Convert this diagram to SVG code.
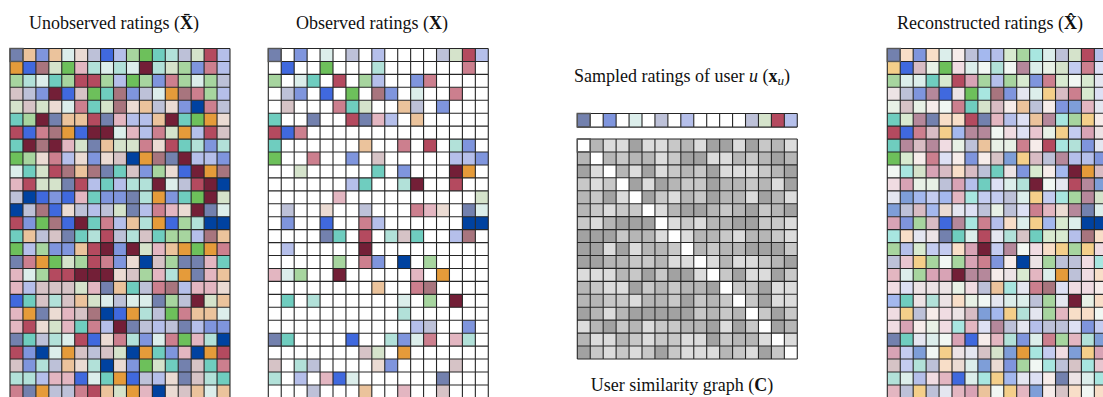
<svg xmlns="http://www.w3.org/2000/svg" xmlns:xlink="http://www.w3.org/1999/xlink" width="1103" height="397" viewBox="0 0 1103 397">
<style>
text{font-family:"Liberation Serif","Times New Roman",serif;font-size:18px;fill:#111}
.cells rect{width:1px;height:1px}
.grid{fill:none;stroke:#262626;stroke-width:0.085}
.frame{fill:none;stroke:#555;stroke-width:0.11}
.w{fill:#fff}
.a{fill:#7381AE}.b{fill:#EBC39C}.c{fill:#7F95DD}.d{fill:#B5BFEA}.e{fill:#DCEEEB}.f{fill:#EBDBD3}
.g{fill:#BDC1D8}.h{fill:#4069DE}.i{fill:#A7D59F}.j{fill:#6DC05B}.k{fill:#6FCDBF}.l{fill:#B2E1D9}
.m{fill:#D5E3CB}.n{fill:#B44A5F}.o{fill:#CC7F8E}.p{fill:#E59B3A}.q{fill:#731F37}.r{fill:#A8757E}
.s{fill:#0042A0}.t{fill:#E3B6C1}.u{fill:#D6C3C6}
.A{fill:#F8DEC8}.B{fill:#F6ECEA}.C{fill:#A4B8EE}.D{fill:#A8E6E0}.E{fill:#F4CF8A}.F{fill:#D8A3B5}
.G{fill:#B5889B}.H{fill:#D8BCC4}.I{fill:#DDE0F4}.J{fill:#E4E6F0}.K{fill:#C4CCF0}.L{fill:#F1F7F3}
.M{fill:#E8F1E6}.N{fill:#F0DCE2}.O{fill:#ECE3E5}.P{fill:#7E9ED8}.Q{fill:#D8EAD0}.R{fill:#E8C6D0}
.z1{fill:#DCDCDC}.z2{fill:#C8C8C8}.z3{fill:#B6B6B6}.z4{fill:#A2A2A2}
</style>
<defs>
<!-- 17 x 27 cell lattice in cell units -->
<path id="lattice27" class="grid" d="M0 0V27M1 0V27M2 0V27M3 0V27M4 0V27M5 0V27M6 0V27M7 0V27M8 0V27M9 0V27M10 0V27M11 0V27M12 0V27M13 0V27M14 0V27M15 0V27M16 0V27M17 0V27M0 0H17M0 1H17M0 2H17M0 3H17M0 4H17M0 5H17M0 6H17M0 7H17M0 8H17M0 9H17M0 10H17M0 11H17M0 12H17M0 13H17M0 14H17M0 15H17M0 16H17M0 17H17M0 18H17M0 19H17M0 20H17M0 21H17M0 22H17M0 23H17M0 24H17M0 25H17M0 26H17M0 27H17"/>
<!-- 17 x 17 cell lattice -->
<path id="lattice17" class="grid" d="M0 0V17M1 0V17M2 0V17M3 0V17M4 0V17M5 0V17M6 0V17M7 0V17M8 0V17M9 0V17M10 0V17M11 0V17M12 0V17M13 0V17M14 0V17M15 0V17M16 0V17M17 0V17M0 0H17M0 1H17M0 2H17M0 3H17M0 4H17M0 5H17M0 6H17M0 7H17M0 8H17M0 9H17M0 10H17M0 11H17M0 12H17M0 13H17M0 14H17M0 15H17M0 16H17M0 17H17"/>
<!-- single row of 17 cells -->
<path id="lattice1" class="grid" d="M0 0V1M1 0V1M2 0V1M3 0V1M4 0V1M5 0V1M6 0V1M7 0V1M8 0V1M9 0V1M10 0V1M11 0V1M12 0V1M13 0V1M14 0V1M15 0V1M16 0V1M17 0V1M0 0H17M0 1H17"/>
</defs>

<!-- Titles -->
<text x="114" y="29" text-anchor="middle">Unobserved ratings (<tspan font-weight="bold">X̄</tspan>)</text>
<text x="372" y="29" text-anchor="middle">Observed ratings (<tspan font-weight="bold">X</tspan>)</text>
<text x="682" y="82" text-anchor="middle">Sampled ratings of user <tspan font-style="italic">u</tspan> (<tspan font-weight="bold">x</tspan><tspan font-style="italic" font-size="13" dy="3">u</tspan><tspan dy="-3">)</tspan></text>
<text x="682" y="391" text-anchor="middle">User similarity graph (<tspan font-weight="bold">C</tspan>)</text>
<text x="990" y="29" text-anchor="middle">Reconstructed ratings (<tspan font-weight="bold">X̂</tspan>)</text>

<!-- Full rating matrix -->
<g id="unobserved-ratings" class="cells" transform="translate(10,48.5) scale(12.94)">
<g><rect class="a"/><rect class="b" x="1"/><rect class="c" x="2"/><rect class="b" x="3"/><rect class="e" x="4"/><rect class="f" x="5"/><rect class="g" x="6"/><rect class="h" x="7"/><rect class="d" x="8"/><rect class="i" x="9"/><rect class="j" x="10"/><rect class="k" x="11"/><rect class="l" x="12"/><rect class="g" x="13"/><rect class="m" x="14"/><rect class="n" x="15"/><rect class="d" x="16"/></g>
<g transform="translate(0,1)"><rect class="p"/><rect class="h" x="1"/><rect class="r" x="2"/><rect class="m" x="3"/><rect class="j" x="4"/><rect class="t" x="5"/><rect class="l" x="6"/><rect class="e" x="7"/><rect class="l" x="8"/><rect class="e" x="9"/><rect class="q" x="10"/><rect class="l" x="11"/><rect class="m" x="12"/><rect class="i" x="13"/><rect class="c" x="14"/><rect class="o" x="15"/><rect class="d" x="16"/></g>
<g transform="translate(0,2)"><rect class="i"/><rect class="l" x="1"/><rect class="e" x="2"/><rect class="k" x="3"/><rect class="i" x="4"/><rect class="n" x="5"/><rect class="n" x="6"/><rect class="i" x="7"/><rect class="d" x="8"/><rect class="j" x="9"/><rect class="i" x="10"/><rect class="c" x="11"/><rect class="o" x="12"/><rect class="i" x="13"/><rect class="e" x="14"/><rect class="i" x="15"/><rect class="g" x="16"/></g>
<g transform="translate(0,3)"><rect class="u"/><rect class="g" x="1"/><rect class="c" x="2"/><rect class="q" x="3"/><rect class="h" x="4"/><rect class="u" x="5"/><rect class="j" x="6"/><rect class="k" x="7"/><rect class="r" x="8"/><rect class="c" x="9"/><rect class="g" x="10"/><rect class="e" x="11"/><rect class="p" x="12"/><rect class="r" x="13"/><rect class="o" x="14"/><rect class="i" x="15"/><rect class="d" x="16"/></g>
<g transform="translate(0,4)"><rect class="m"/><rect class="u" x="1"/><rect class="m" x="2"/><rect class="f" x="3"/><rect class="e" x="4"/><rect class="o" x="5"/><rect class="k" x="6"/><rect class="m" x="7"/><rect class="r" x="8"/><rect class="f" x="9"/><rect class="b" x="10"/><rect class="g" x="11"/><rect class="f" x="12"/><rect class="c" x="13"/><rect class="s" x="14"/><rect class="o" x="15"/><rect class="g" x="16"/></g>
<g transform="translate(0,5)"><rect class="k"/><rect class="i" x="1"/><rect class="q" x="2"/><rect class="a" x="3"/><rect class="b" x="4"/><rect class="b" x="5"/><rect class="n" x="6"/><rect class="a" x="7"/><rect class="t" x="8"/><rect class="d" x="9"/><rect class="d" x="10"/><rect class="b" x="11"/><rect class="q" x="12"/><rect class="k" x="13"/><rect class="j" x="14"/><rect class="p" x="15"/><rect class="f" x="16"/></g>
<g transform="translate(0,6)"><rect class="n"/><rect class="h" x="1"/><rect class="o" x="2"/><rect class="r" x="3"/><rect class="p" x="4"/><rect class="h" x="5"/><rect class="q" x="6"/><rect class="q" x="7"/><rect class="e" x="8"/><rect class="t" x="9"/><rect class="d" x="10"/><rect class="o" x="11"/><rect class="m" x="12"/><rect class="p" x="13"/><rect class="d" x="14"/><rect class="n" x="15"/><rect class="u" x="16"/></g>
<g transform="translate(0,7)"><rect class="k"/><rect class="q" x="1"/><rect class="r" x="2"/><rect class="q" x="3"/><rect class="t" x="4"/><rect class="m" x="5"/><rect class="a" x="6"/><rect class="b" x="7"/><rect class="m" x="8"/><rect class="m" x="9"/><rect class="o" x="10"/><rect class="f" x="11"/><rect class="n" x="12"/><rect class="k" x="13"/><rect class="l" x="14"/><rect class="c" x="15"/><rect class="l" x="16"/></g>
<g transform="translate(0,8)"><rect class="j"/><rect class="i" x="1"/><rect class="f" x="2"/><rect class="o" x="3"/><rect class="d" x="4"/><rect class="f" x="5"/><rect class="c" x="6"/><rect class="f" x="7"/><rect class="u" x="8"/><rect class="s" x="9"/><rect class="p" x="10"/><rect class="r" x="11"/><rect class="a" x="12"/><rect class="q" x="13"/><rect class="d" x="14"/><rect class="d" x="15"/><rect class="c" x="16"/></g>
<g transform="translate(0,9)"><rect class="e"/><rect class="k" x="1"/><rect class="m" x="2"/><rect class="n" x="3"/><rect class="r" x="4"/><rect class="b" x="5"/><rect class="r" x="6"/><rect class="a" x="7"/><rect class="k" x="8"/><rect class="u" x="9"/><rect class="c" x="10"/><rect class="i" x="11"/><rect class="f" x="12"/><rect class="h" x="13"/><rect class="q" x="14"/><rect class="p" x="15"/><rect class="r" x="16"/></g>
<g transform="translate(0,10)"><rect class="t"/><rect class="n" x="1"/><rect class="m" x="2"/><rect class="m" x="3"/><rect class="a" x="4"/><rect class="n" x="5"/><rect class="d" x="6"/><rect class="k" x="7"/><rect class="d" x="8"/><rect class="l" x="9"/><rect class="l" x="10"/><rect class="q" x="11"/><rect class="e" x="12"/><rect class="g" x="13"/><rect class="n" x="14"/><rect class="q" x="15"/><rect class="s" x="16"/></g>
<g transform="translate(0,11)"><rect class="g"/><rect class="s" x="1"/><rect class="h" x="2"/><rect class="c" x="3"/><rect class="h" x="4"/><rect class="t" x="5"/><rect class="k" x="6"/><rect class="c" x="7"/><rect class="c" x="8"/><rect class="a" x="9"/><rect class="l" x="10"/><rect class="p" x="11"/><rect class="c" x="12"/><rect class="k" x="13"/><rect class="j" x="14"/><rect class="q" x="15"/><rect class="m" x="16"/></g>
<g transform="translate(0,12)"><rect class="s"/><rect class="g" x="1"/><rect class="r" x="2"/><rect class="h" x="3"/><rect class="f" x="4"/><rect class="g" x="5"/><rect class="d" x="6"/><rect class="g" x="7"/><rect class="m" x="8"/><rect class="a" x="9"/><rect class="d" x="10"/><rect class="o" x="11"/><rect class="t" x="12"/><rect class="f" x="13"/><rect class="q" x="14"/><rect class="a" x="15"/><rect class="e" x="16"/></g>
<g transform="translate(0,13)"><rect class="n"/><rect class="c" x="1"/><rect class="j" x="2"/><rect class="r" x="3"/><rect class="h" x="4"/><rect class="q" x="5"/><rect class="k" x="6"/><rect class="o" x="7"/><rect class="d" x="8"/><rect class="b" x="9"/><rect class="l" x="10"/><rect class="p" x="11"/><rect class="h" x="12"/><rect class="i" x="13"/><rect class="l" x="14"/><rect class="s" x="15"/><rect class="s" x="16"/></g>
<g transform="translate(0,14)"><rect class="k"/><rect class="b" x="1"/><rect class="g" x="2"/><rect class="u" x="3"/><rect class="a" x="4"/><rect class="k" x="5"/><rect class="l" x="6"/><rect class="n" x="7"/><rect class="g" x="8"/><rect class="l" x="9"/><rect class="u" x="10"/><rect class="k" x="11"/><rect class="i" x="12"/><rect class="i" x="13"/><rect class="d" x="14"/><rect class="r" x="15"/><rect class="b" x="16"/></g>
<g transform="translate(0,15)"><rect class="j"/><rect class="d" x="1"/><rect class="i" x="2"/><rect class="c" x="3"/><rect class="c" x="4"/><rect class="b" x="5"/><rect class="n" x="6"/><rect class="q" x="7"/><rect class="c" x="8"/><rect class="q" x="9"/><rect class="m" x="10"/><rect class="t" x="11"/><rect class="b" x="12"/><rect class="p" x="13"/><rect class="j" x="14"/><rect class="p" x="15"/><rect class="o" x="16"/></g>
<g transform="translate(0,16)"><rect class="a"/><rect class="o" x="1"/><rect class="p" x="2"/><rect class="j" x="3"/><rect class="m" x="4"/><rect class="i" x="5"/><rect class="n" x="6"/><rect class="o" x="7"/><rect class="c" x="8"/><rect class="f" x="9"/><rect class="s" x="10"/><rect class="u" x="11"/><rect class="i" x="12"/><rect class="a" x="13"/><rect class="a" x="14"/><rect class="t" x="15"/><rect class="k" x="16"/></g>
<g transform="translate(0,17)"><rect class="t"/><rect class="e" x="1"/><rect class="i" x="2"/><rect class="n" x="3"/><rect class="n" x="4"/><rect class="q" x="5"/><rect class="q" x="6"/><rect class="q" x="7"/><rect class="f" x="8"/><rect class="u" x="9"/><rect class="i" x="10"/><rect class="t" x="11"/><rect class="l" x="12"/><rect class="p" x="13"/><rect class="a" x="14"/><rect class="t" x="15"/><rect class="b" x="16"/></g>
<g transform="translate(0,18)"><rect class="t"/><rect class="d" x="1"/><rect class="u" x="2"/><rect class="u" x="3"/><rect class="u" x="4"/><rect class="m" x="5"/><rect class="t" x="6"/><rect class="a" x="7"/><rect class="b" x="8"/><rect class="k" x="9"/><rect class="g" x="10"/><rect class="o" x="11"/><rect class="r" x="12"/><rect class="d" x="13"/><rect class="t" x="14"/><rect class="t" x="15"/><rect class="f" x="16"/></g>
<g transform="translate(0,19)"><rect class="h"/><rect class="k" x="1"/><rect class="u" x="2"/><rect class="l" x="3"/><rect class="u" x="4"/><rect class="b" x="5"/><rect class="m" x="6"/><rect class="e" x="7"/><rect class="g" x="8"/><rect class="e" x="9"/><rect class="e" x="10"/><rect class="a" x="11"/><rect class="i" x="12"/><rect class="g" x="13"/><rect class="q" x="14"/><rect class="m" x="15"/><rect class="b" x="16"/></g>
<g transform="translate(0,20)"><rect class="t"/><rect class="p" x="1"/><rect class="a" x="2"/><rect class="f" x="3"/><rect class="t" x="4"/><rect class="u" x="5"/><rect class="r" x="6"/><rect class="s" x="7"/><rect class="h" x="8"/><rect class="p" x="9"/><rect class="l" x="10"/><rect class="g" x="11"/><rect class="j" x="12"/><rect class="o" x="13"/><rect class="b" x="14"/><rect class="b" x="15"/><rect class="e" x="16"/></g>
<g transform="translate(0,21)"><rect class="t"/><rect class="n" x="1"/><rect class="f" x="2"/><rect class="m" x="3"/><rect class="t" x="4"/><rect class="k" x="5"/><rect class="o" x="6"/><rect class="d" x="7"/><rect class="q" x="8"/><rect class="a" x="9"/><rect class="g" x="10"/><rect class="d" x="11"/><rect class="g" x="12"/><rect class="a" x="13"/><rect class="d" x="14"/><rect class="c" x="15"/><rect class="c" x="16"/></g>
<g transform="translate(0,22)"><rect class="a"/><rect class="k" x="1"/><rect class="g" x="2"/><rect class="l" x="3"/><rect class="e" x="4"/><rect class="n" x="5"/><rect class="h" x="6"/><rect class="f" x="7"/><rect class="o" x="8"/><rect class="l" x="9"/><rect class="c" x="10"/><rect class="e" x="11"/><rect class="o" x="12"/><rect class="j" x="13"/><rect class="t" x="14"/><rect class="l" x="15"/><rect class="s" x="16"/></g>
<g transform="translate(0,23)"><rect class="n"/><rect class="c" x="1"/><rect class="s" x="2"/><rect class="e" x="3"/><rect class="p" x="4"/><rect class="u" x="5"/><rect class="g" x="6"/><rect class="u" x="7"/><rect class="m" x="8"/><rect class="s" x="9"/><rect class="p" x="10"/><rect class="k" x="11"/><rect class="c" x="12"/><rect class="t" x="13"/><rect class="s" x="14"/><rect class="p" x="15"/><rect class="n" x="16"/></g>
<g transform="translate(0,24)"><rect class="u"/><rect class="c" x="1"/><rect class="l" x="2"/><rect class="g" x="3"/><rect class="b" x="4"/><rect class="f" x="5"/><rect class="l" x="6"/><rect class="s" x="7"/><rect class="f" x="8"/><rect class="c" x="9"/><rect class="j" x="10"/><rect class="m" x="11"/><rect class="k" x="12"/><rect class="a" x="13"/><rect class="u" x="14"/><rect class="k" x="15"/><rect class="o" x="16"/></g>
<g transform="translate(0,25)"><rect class="l"/><rect class="l" x="1"/><rect class="d" x="2"/><rect class="t" x="3"/><rect class="t" x="4"/><rect class="h" x="5"/><rect class="e" x="6"/><rect class="k" x="7"/><rect class="p" x="8"/><rect class="h" x="9"/><rect class="g" x="10"/><rect class="d" x="11"/><rect class="f" x="12"/><rect class="a" x="13"/><rect class="u" x="14"/><rect class="l" x="15"/><rect class="k" x="16"/></g>
<g transform="translate(0,26)"><rect class="o"/><rect class="a" x="1"/><rect class="p" x="2"/><rect class="g" x="3"/><rect class="g" x="4"/><rect class="o" x="5"/><rect class="n" x="6"/><rect class="b" x="7"/><rect class="m" x="8"/><rect class="p" x="9"/><rect class="t" x="10"/><rect class="s" x="11"/><rect class="f" x="12"/><rect class="u" x="13"/><rect class="b" x="14"/><rect class="e" x="15"/><rect class="b" x="16"/></g>
<use href="#lattice27"/>
<rect class="frame" width="17" height="27" style="fill:none"/>
</g>

<!-- Observed entries only; missing entries stay white -->
<g id="observed-ratings" class="cells" transform="translate(268.3,48.5) scale(12.94)">
<rect class="w" style="width:17px;height:27px"/>
<g><rect class="a"/><rect class="c" x="2"/><rect class="e" x="4"/><rect class="g" x="6"/><rect class="d" x="8"/><rect class="g" x="13"/><rect class="m" x="14"/><rect class="n" x="15"/><rect class="d" x="16"/></g>
<g transform="translate(0,1)"><rect class="h" x="1"/><rect class="j" x="4"/><rect class="l" x="8"/><rect class="o" x="15"/></g>
<g transform="translate(0,2)"><rect class="i"/><rect class="e" x="2"/><rect class="k" x="3"/><rect class="n" x="5"/><rect class="i" x="7"/><rect class="d" x="8"/><rect class="c" x="11"/><rect class="o" x="12"/></g>
<g transform="translate(0,3)"><rect class="g" x="1"/><rect class="c" x="2"/><rect class="h" x="4"/><rect class="j" x="6"/><rect class="r" x="8"/><rect class="c" x="9"/><rect class="e" x="11"/><rect class="o" x="14"/></g>
<g transform="translate(0,4)"><rect class="u" x="1"/><rect class="o" x="5"/><rect class="k" x="6"/><rect class="m" x="7"/><rect class="b" x="10"/><rect class="g" x="11"/><rect class="c" x="13"/></g>
<g transform="translate(0,5)"><rect class="k"/><rect class="a" x="3"/><rect class="n" x="6"/><rect class="a" x="7"/><rect class="t" x="8"/><rect class="d" x="9"/><rect class="b" x="11"/></g>
<g transform="translate(0,6)"><rect class="n"/><rect class="h" x="1"/><rect class="o" x="2"/></g>
<g transform="translate(0,7)"><rect class="k"/><rect class="b" x="7"/><rect class="o" x="10"/><rect class="n" x="12"/><rect class="l" x="14"/><rect class="c" x="15"/></g>
<g transform="translate(0,8)"><rect class="j"/><rect class="o" x="3"/><rect class="c" x="6"/><rect class="u" x="8"/><rect class="d" x="14"/><rect class="d" x="15"/><rect class="c" x="16"/></g>
<g transform="translate(0,9)"><rect class="m" x="2"/><rect class="k" x="8"/><rect class="c" x="10"/><rect class="q" x="14"/><rect class="p" x="15"/></g>
<g transform="translate(0,10)"><rect class="d" x="6"/><rect class="k" x="7"/><rect class="l" x="10"/><rect class="q" x="11"/><rect class="n" x="14"/></g>
<g transform="translate(0,11)"><rect class="t" x="5"/><rect class="m" x="16"/></g>
<g transform="translate(0,12)"><rect class="g" x="1"/><rect class="f" x="4"/><rect class="g" x="7"/><rect class="o" x="11"/><rect class="t" x="12"/><rect class="f" x="13"/><rect class="a" x="15"/><rect class="e" x="16"/></g>
<g transform="translate(0,13)"><rect class="c" x="1"/><rect class="h" x="4"/><rect class="o" x="7"/><rect class="d" x="8"/><rect class="s" x="15"/><rect class="s" x="16"/></g>
<g transform="translate(0,14)"><rect class="a" x="4"/><rect class="k" x="5"/><rect class="n" x="7"/><rect class="l" x="9"/><rect class="u" x="10"/><rect class="k" x="11"/><rect class="d" x="14"/><rect class="r" x="15"/></g>
<g transform="translate(0,15)"><rect class="d" x="1"/><rect class="q" x="7"/></g>
<g transform="translate(0,16)"><rect class="i" x="5"/><rect class="o" x="7"/><rect class="c" x="8"/><rect class="s" x="10"/><rect class="i" x="12"/></g>
<g transform="translate(0,17)"><rect class="t"/><rect class="e" x="1"/><rect class="i" x="2"/><rect class="q" x="5"/><rect class="t" x="11"/><rect class="p" x="13"/></g>
<g transform="translate(0,18)"><rect class="b" x="8"/><rect class="o" x="11"/><rect class="r" x="12"/></g>
<g transform="translate(0,19)"><rect class="k" x="1"/><rect class="l" x="3"/><rect class="e" x="10"/><rect class="i" x="12"/><rect class="q" x="14"/></g>
<g transform="translate(0,20)"><rect class="l" x="10"/></g>
<g transform="translate(0,21)"><rect class="d" x="11"/><rect class="g" x="12"/><rect class="c" x="15"/></g>
<g transform="translate(0,22)"><rect class="a"/><rect class="k" x="1"/><rect class="h" x="6"/><rect class="l" x="9"/><rect class="c" x="10"/><rect class="e" x="11"/><rect class="o" x="12"/><rect class="t" x="14"/><rect class="l" x="15"/></g>
<g transform="translate(0,23)"><rect class="u" x="7"/><rect class="m" x="8"/><rect class="p" x="10"/></g>
<g transform="translate(0,24)"><rect class="u"/><rect class="l" x="2"/><rect class="g" x="3"/><rect class="f" x="8"/><rect class="c" x="9"/><rect class="u" x="14"/></g>
<g transform="translate(0,25)"><rect class="l"/><rect class="d" x="2"/><rect class="t" x="4"/><rect class="h" x="5"/><rect class="e" x="6"/><rect class="a" x="13"/></g>
<g transform="translate(0,26)"><rect class="g" x="3"/><rect class="b" x="7"/><rect class="t" x="10"/><rect class="u" x="13"/></g>
<use href="#lattice27"/>
<rect class="frame" width="17" height="27" style="fill:none"/>
</g>

<!-- Ratings of the sampled user (first row of the observed matrix) -->
<g id="sampled-user" class="cells" transform="translate(577.3,113.5) scale(12.94,13.6)">
<rect class="a"/><rect class="w" x="1"/><rect class="c" x="2"/><rect class="w" x="3"/><rect class="e" x="4"/><rect class="w" x="5"/><rect class="g" x="6"/><rect class="w" x="7"/><rect class="d" x="8"/><rect class="w" x="9"/><rect class="w" x="10"/><rect class="w" x="11"/><rect class="w" x="12"/><rect class="g" x="13"/><rect class="m" x="14"/><rect class="n" x="15"/><rect class="d" x="16"/>
<use href="#lattice1"/>
<rect class="frame" width="17" height="1" style="fill:none"/>
</g>

<!-- User-user similarity matrix, self-similarity on the diagonal -->
<g id="similarity-graph" class="cells" transform="translate(577.3,139) scale(12.94)">
<g><rect class="w"/><rect class="z3" x="1"/><rect class="z1" x="2"/><rect class="z1" x="3"/><rect class="z4" x="4"/><rect class="z1" x="5"/><rect class="z1" x="6"/><rect class="z2" x="7"/><rect class="z3" x="8"/><rect class="z1" x="9"/><rect class="z4" x="10"/><rect class="z4" x="11"/><rect class="z1" x="12"/><rect class="z4" x="13"/><rect class="z2" x="14"/><rect class="z3" x="15"/><rect class="z1" x="16"/></g>
<g transform="translate(0,1)"><rect class="z3"/><rect class="w" x="1"/><rect class="z3" x="2"/><rect class="z2" x="3"/><rect class="z3" x="4"/><rect class="z3" x="5"/><rect class="z1" x="6"/><rect class="z2" x="7"/><rect class="z4" x="8"/><rect class="z4" x="9"/><rect class="z1" x="10"/><rect class="z1" x="11"/><rect class="z3" x="12"/><rect class="z2" x="13"/><rect class="z3" x="14"/><rect class="z4" x="15"/><rect class="z3" x="16"/></g>
<g transform="translate(0,2)"><rect class="z4"/><rect class="z1" x="1"/><rect class="w" x="2"/><rect class="z3" x="3"/><rect class="z1" x="4"/><rect class="z4" x="5"/><rect class="z1" x="6"/><rect class="z2" x="7"/><rect class="z3" x="8"/><rect class="z2" x="9"/><rect class="z4" x="10"/><rect class="z1" x="11"/><rect class="z1" x="12"/><rect class="z1" x="13"/><rect class="z2" x="14"/><rect class="z3" x="15"/><rect class="z4" x="16"/></g>
<g transform="translate(0,3)"><rect class="z2"/><rect class="z1" x="1"/><rect class="z2" x="2"/><rect class="w" x="3"/><rect class="z4" x="4"/><rect class="z1" x="5"/><rect class="z4" x="6"/><rect class="z3" x="7"/><rect class="z2" x="8"/><rect class="z2" x="9"/><rect class="z4" x="10"/><rect class="z3" x="11"/><rect class="z3" x="12"/><rect class="z2" x="13"/><rect class="z3" x="14"/><rect class="z1" x="15"/><rect class="z4" x="16"/></g>
<g transform="translate(0,4)"><rect class="z3"/><rect class="z2" x="1"/><rect class="z4" x="2"/><rect class="z1" x="3"/><rect class="w" x="4"/><rect class="z4" x="5"/><rect class="z2" x="6"/><rect class="z1" x="7"/><rect class="z3" x="8"/><rect class="z2" x="9"/><rect class="z4" x="10"/><rect class="z3" x="11"/><rect class="z3" x="12"/><rect class="z1" x="13"/><rect class="z4" x="14"/><rect class="z3" x="15"/><rect class="z1" x="16"/></g>
<g transform="translate(0,5)"><rect class="z3"/><rect class="z2" x="1"/><rect class="z1" x="2"/><rect class="z2" x="3"/><rect class="z2" x="4"/><rect class="w" x="5"/><rect class="z1" x="6"/><rect class="z3" x="7"/><rect class="z4" x="8"/><rect class="z4" x="9"/><rect class="z3" x="10"/><rect class="z2" x="11"/><rect class="z3" x="12"/><rect class="z4" x="13"/><rect class="z2" x="14"/><rect class="z3" x="15"/><rect class="z4" x="16"/></g>
<g transform="translate(0,6)"><rect class="z2"/><rect class="z1" x="1"/><rect class="z3" x="2"/><rect class="z4" x="3"/><rect class="z4" x="4"/><rect class="z4" x="5"/><rect class="w" x="6"/><rect class="z1" x="7"/><rect class="z2" x="8"/><rect class="z1" x="9"/><rect class="z3" x="10"/><rect class="z3" x="11"/><rect class="z4" x="12"/><rect class="z4" x="13"/><rect class="z2" x="14"/><rect class="z2" x="15"/><rect class="z1" x="16"/></g>
<g transform="translate(0,7)"><rect class="z4"/><rect class="z4" x="1"/><rect class="z4" x="2"/><rect class="z2" x="3"/><rect class="z3" x="4"/><rect class="z3" x="5"/><rect class="z1" x="6"/><rect class="w" x="7"/><rect class="z1" x="8"/><rect class="z3" x="9"/><rect class="z3" x="10"/><rect class="z2" x="11"/><rect class="z1" x="12"/><rect class="z3" x="13"/><rect class="z3" x="14"/><rect class="z2" x="15"/><rect class="z1" x="16"/></g>
<g transform="translate(0,8)"><rect class="z4"/><rect class="z4" x="1"/><rect class="z1" x="2"/><rect class="z4" x="3"/><rect class="z1" x="4"/><rect class="z3" x="5"/><rect class="z3" x="6"/><rect class="z2" x="7"/><rect class="w" x="8"/><rect class="z3" x="9"/><rect class="z2" x="10"/><rect class="z3" x="11"/><rect class="z3" x="12"/><rect class="z4" x="13"/><rect class="z4" x="14"/><rect class="z4" x="15"/><rect class="z2" x="16"/></g>
<g transform="translate(0,9)"><rect class="z4"/><rect class="z4" x="1"/><rect class="z3" x="2"/><rect class="z3" x="3"/><rect class="z2" x="4"/><rect class="z2" x="5"/><rect class="z3" x="6"/><rect class="z1" x="7"/><rect class="z1" x="8"/><rect class="w" x="9"/><rect class="z1" x="10"/><rect class="z3" x="11"/><rect class="z1" x="12"/><rect class="z1" x="13"/><rect class="z2" x="14"/><rect class="z3" x="15"/><rect class="z4" x="16"/></g>
<g transform="translate(0,10)"><rect class="z1"/><rect class="z1" x="1"/><rect class="z1" x="2"/><rect class="z3" x="3"/><rect class="z2" x="4"/><rect class="z4" x="5"/><rect class="z2" x="6"/><rect class="z4" x="7"/><rect class="z4" x="8"/><rect class="z1" x="9"/><rect class="w" x="10"/><rect class="z2" x="11"/><rect class="z4" x="12"/><rect class="z1" x="13"/><rect class="z1" x="14"/><rect class="z4" x="15"/><rect class="z2" x="16"/></g>
<g transform="translate(0,11)"><rect class="z3"/><rect class="z2" x="1"/><rect class="z1" x="2"/><rect class="z1" x="3"/><rect class="z4" x="4"/><rect class="z2" x="5"/><rect class="z3" x="6"/><rect class="z2" x="7"/><rect class="z3" x="8"/><rect class="z3" x="9"/><rect class="z4" x="10"/><rect class="w" x="11"/><rect class="z2" x="12"/><rect class="z2" x="13"/><rect class="z4" x="14"/><rect class="z1" x="15"/><rect class="z1" x="16"/></g>
<g transform="translate(0,12)"><rect class="z3"/><rect class="z3" x="1"/><rect class="z2" x="2"/><rect class="z2" x="3"/><rect class="z1" x="4"/><rect class="z3" x="5"/><rect class="z3" x="6"/><rect class="z2" x="7"/><rect class="z4" x="8"/><rect class="z2" x="9"/><rect class="z3" x="10"/><rect class="z2" x="11"/><rect class="w" x="12"/><rect class="z2" x="13"/><rect class="z4" x="14"/><rect class="z1" x="15"/><rect class="z1" x="16"/></g>
<g transform="translate(0,13)"><rect class="z4"/><rect class="z3" x="1"/><rect class="z1" x="2"/><rect class="z3" x="3"/><rect class="z4" x="4"/><rect class="z4" x="5"/><rect class="z4" x="6"/><rect class="z4" x="7"/><rect class="z4" x="8"/><rect class="z2" x="9"/><rect class="z3" x="10"/><rect class="z2" x="11"/><rect class="z3" x="12"/><rect class="w" x="13"/><rect class="z2" x="14"/><rect class="z4" x="15"/><rect class="z2" x="16"/></g>
<g transform="translate(0,14)"><rect class="z1"/><rect class="z3" x="1"/><rect class="z4" x="2"/><rect class="z2" x="3"/><rect class="z3" x="4"/><rect class="z1" x="5"/><rect class="z2" x="6"/><rect class="z2" x="7"/><rect class="z3" x="8"/><rect class="z3" x="9"/><rect class="z4" x="10"/><rect class="z1" x="11"/><rect class="z4" x="12"/><rect class="z2" x="13"/><rect class="w" x="14"/><rect class="z4" x="15"/><rect class="z3" x="16"/></g>
<g transform="translate(0,15)"><rect class="z3"/><rect class="z1" x="1"/><rect class="z1" x="2"/><rect class="z3" x="3"/><rect class="z2" x="4"/><rect class="z1" x="5"/><rect class="z2" x="6"/><rect class="z2" x="7"/><rect class="z1" x="8"/><rect class="z1" x="9"/><rect class="z4" x="10"/><rect class="z2" x="11"/><rect class="z3" x="12"/><rect class="z3" x="13"/><rect class="z1" x="14"/><rect class="w" x="15"/><rect class="z1" x="16"/></g>
<g transform="translate(0,16)"><rect class="z4"/><rect class="z2" x="1"/><rect class="z1" x="2"/><rect class="z2" x="3"/><rect class="z1" x="4"/><rect class="z2" x="5"/><rect class="z4" x="6"/><rect class="z2" x="7"/><rect class="z1" x="8"/><rect class="z1" x="9"/><rect class="z1" x="10"/><rect class="z3" x="11"/><rect class="z2" x="12"/><rect class="z1" x="13"/><rect class="z4" x="14"/><rect class="z2" x="15"/><rect class="w" x="16"/></g>
<use href="#lattice17"/>
<rect class="frame" width="17" height="17" style="fill:none"/>
</g>

<!-- Completed rating matrix: observed entries kept, missing ones filled in -->
<g id="reconstructed-ratings" class="cells" transform="translate(887.3,48.5) scale(12.94)">
<g><rect class="a"/><rect class="A" x="1"/><rect class="c" x="2"/><rect class="A" x="3"/><rect class="e" x="4"/><rect class="B" x="5"/><rect class="g" x="6"/><rect class="C" x="7"/><rect class="d" x="8"/><rect class="Q" x="9"/><rect class="i" x="10"/><rect class="D" x="11"/><rect class="e" x="12"/><rect class="g" x="13"/><rect class="m" x="14"/><rect class="n" x="15"/><rect class="d" x="16"/></g>
<g transform="translate(0,1)"><rect class="E"/><rect class="h" x="1"/><rect class="H" x="2"/><rect class="M" x="3"/><rect class="j" x="4"/><rect class="N" x="5"/><rect class="e" x="6"/><rect class="L" x="7"/><rect class="l" x="8"/><rect class="L" x="9"/><rect class="G" x="10"/><rect class="e" x="11"/><rect class="M" x="12"/><rect class="m" x="13"/><rect class="K" x="14"/><rect class="o" x="15"/><rect class="I" x="16"/></g>
<g transform="translate(0,2)"><rect class="i"/><rect class="e" x="1"/><rect class="e" x="2"/><rect class="k" x="3"/><rect class="Q" x="4"/><rect class="n" x="5"/><rect class="F" x="6"/><rect class="i" x="7"/><rect class="d" x="8"/><rect class="i" x="9"/><rect class="Q" x="10"/><rect class="c" x="11"/><rect class="o" x="12"/><rect class="Q" x="13"/><rect class="L" x="14"/><rect class="Q" x="15"/><rect class="J" x="16"/></g>
<g transform="translate(0,3)"><rect class="O"/><rect class="g" x="1"/><rect class="c" x="2"/><rect class="G" x="3"/><rect class="h" x="4"/><rect class="O" x="5"/><rect class="j" x="6"/><rect class="D" x="7"/><rect class="r" x="8"/><rect class="c" x="9"/><rect class="J" x="10"/><rect class="e" x="11"/><rect class="E" x="12"/><rect class="H" x="13"/><rect class="o" x="14"/><rect class="Q" x="15"/><rect class="I" x="16"/></g>
<g transform="translate(0,4)"><rect class="M"/><rect class="u" x="1"/><rect class="M" x="2"/><rect class="B" x="3"/><rect class="L" x="4"/><rect class="o" x="5"/><rect class="k" x="6"/><rect class="m" x="7"/><rect class="H" x="8"/><rect class="B" x="9"/><rect class="b" x="10"/><rect class="g" x="11"/><rect class="B" x="12"/><rect class="c" x="13"/><rect class="P" x="14"/><rect class="t" x="15"/><rect class="J" x="16"/></g>
<g transform="translate(0,5)"><rect class="k"/><rect class="Q" x="1"/><rect class="G" x="2"/><rect class="a" x="3"/><rect class="A" x="4"/><rect class="A" x="5"/><rect class="n" x="6"/><rect class="a" x="7"/><rect class="t" x="8"/><rect class="d" x="9"/><rect class="I" x="10"/><rect class="b" x="11"/><rect class="G" x="12"/><rect class="D" x="13"/><rect class="i" x="14"/><rect class="E" x="15"/><rect class="B" x="16"/></g>
<g transform="translate(0,6)"><rect class="n"/><rect class="h" x="1"/><rect class="o" x="2"/><rect class="H" x="3"/><rect class="E" x="4"/><rect class="C" x="5"/><rect class="G" x="6"/><rect class="G" x="7"/><rect class="L" x="8"/><rect class="N" x="9"/><rect class="I" x="10"/><rect class="R" x="11"/><rect class="M" x="12"/><rect class="E" x="13"/><rect class="K" x="14"/><rect class="F" x="15"/><rect class="O" x="16"/></g>
<g transform="translate(0,7)"><rect class="k"/><rect class="G" x="1"/><rect class="H" x="2"/><rect class="G" x="3"/><rect class="N" x="4"/><rect class="M" x="5"/><rect class="g" x="6"/><rect class="b" x="7"/><rect class="M" x="8"/><rect class="M" x="9"/><rect class="o" x="10"/><rect class="B" x="11"/><rect class="n" x="12"/><rect class="D" x="13"/><rect class="l" x="14"/><rect class="c" x="15"/><rect class="J" x="16"/></g>
<g transform="translate(0,8)"><rect class="j"/><rect class="Q" x="1"/><rect class="B" x="2"/><rect class="o" x="3"/><rect class="I" x="4"/><rect class="B" x="5"/><rect class="c" x="6"/><rect class="B" x="7"/><rect class="u" x="8"/><rect class="P" x="9"/><rect class="E" x="10"/><rect class="H" x="11"/><rect class="g" x="12"/><rect class="G" x="13"/><rect class="d" x="14"/><rect class="d" x="15"/><rect class="c" x="16"/></g>
<g transform="translate(0,9)"><rect class="L"/><rect class="D" x="1"/><rect class="m" x="2"/><rect class="F" x="3"/><rect class="H" x="4"/><rect class="A" x="5"/><rect class="H" x="6"/><rect class="g" x="7"/><rect class="k" x="8"/><rect class="O" x="9"/><rect class="c" x="10"/><rect class="Q" x="11"/><rect class="B" x="12"/><rect class="C" x="13"/><rect class="q" x="14"/><rect class="p" x="15"/><rect class="H" x="16"/></g>
<g transform="translate(0,10)"><rect class="N"/><rect class="F" x="1"/><rect class="M" x="2"/><rect class="M" x="3"/><rect class="g" x="4"/><rect class="F" x="5"/><rect class="d" x="6"/><rect class="k" x="7"/><rect class="I" x="8"/><rect class="e" x="9"/><rect class="l" x="10"/><rect class="q" x="11"/><rect class="L" x="12"/><rect class="J" x="13"/><rect class="n" x="14"/><rect class="G" x="15"/><rect class="P" x="16"/></g>
<g transform="translate(0,11)"><rect class="J"/><rect class="P" x="1"/><rect class="C" x="2"/><rect class="K" x="3"/><rect class="C" x="4"/><rect class="t" x="5"/><rect class="D" x="6"/><rect class="K" x="7"/><rect class="K" x="8"/><rect class="g" x="9"/><rect class="e" x="10"/><rect class="E" x="11"/><rect class="K" x="12"/><rect class="D" x="13"/><rect class="i" x="14"/><rect class="G" x="15"/><rect class="m" x="16"/></g>
<g transform="translate(0,12)"><rect class="P"/><rect class="g" x="1"/><rect class="H" x="2"/><rect class="C" x="3"/><rect class="f" x="4"/><rect class="J" x="5"/><rect class="I" x="6"/><rect class="g" x="7"/><rect class="M" x="8"/><rect class="g" x="9"/><rect class="I" x="10"/><rect class="o" x="11"/><rect class="t" x="12"/><rect class="f" x="13"/><rect class="G" x="14"/><rect class="a" x="15"/><rect class="e" x="16"/></g>
<g transform="translate(0,13)"><rect class="F"/><rect class="c" x="1"/><rect class="i" x="2"/><rect class="H" x="3"/><rect class="h" x="4"/><rect class="G" x="5"/><rect class="D" x="6"/><rect class="o" x="7"/><rect class="d" x="8"/><rect class="A" x="9"/><rect class="e" x="10"/><rect class="E" x="11"/><rect class="C" x="12"/><rect class="Q" x="13"/><rect class="e" x="14"/><rect class="s" x="15"/><rect class="s" x="16"/></g>
<g transform="translate(0,14)"><rect class="D"/><rect class="A" x="1"/><rect class="J" x="2"/><rect class="O" x="3"/><rect class="a" x="4"/><rect class="k" x="5"/><rect class="e" x="6"/><rect class="n" x="7"/><rect class="J" x="8"/><rect class="l" x="9"/><rect class="u" x="10"/><rect class="k" x="11"/><rect class="Q" x="12"/><rect class="Q" x="13"/><rect class="d" x="14"/><rect class="r" x="15"/><rect class="A" x="16"/></g>
<g transform="translate(0,15)"><rect class="i"/><rect class="d" x="1"/><rect class="Q" x="2"/><rect class="K" x="3"/><rect class="K" x="4"/><rect class="A" x="5"/><rect class="F" x="6"/><rect class="q" x="7"/><rect class="K" x="8"/><rect class="G" x="9"/><rect class="L" x="10"/><rect class="N" x="11"/><rect class="A" x="12"/><rect class="E" x="13"/><rect class="i" x="14"/><rect class="E" x="15"/><rect class="N" x="16"/></g>
<g transform="translate(0,16)"><rect class="g"/><rect class="R" x="1"/><rect class="E" x="2"/><rect class="i" x="3"/><rect class="L" x="4"/><rect class="i" x="5"/><rect class="F" x="6"/><rect class="o" x="7"/><rect class="c" x="8"/><rect class="B" x="9"/><rect class="s" x="10"/><rect class="O" x="11"/><rect class="i" x="12"/><rect class="g" x="13"/><rect class="g" x="14"/><rect class="N" x="15"/><rect class="D" x="16"/></g>
<g transform="translate(0,17)"><rect class="t"/><rect class="e" x="1"/><rect class="i" x="2"/><rect class="F" x="3"/><rect class="F" x="4"/><rect class="q" x="5"/><rect class="G" x="6"/><rect class="G" x="7"/><rect class="B" x="8"/><rect class="O" x="9"/><rect class="Q" x="10"/><rect class="t" x="11"/><rect class="e" x="12"/><rect class="p" x="13"/><rect class="g" x="14"/><rect class="N" x="15"/><rect class="A" x="16"/></g>
<g transform="translate(0,18)"><rect class="N"/><rect class="I" x="1"/><rect class="O" x="2"/><rect class="O" x="3"/><rect class="O" x="4"/><rect class="M" x="5"/><rect class="N" x="6"/><rect class="g" x="7"/><rect class="b" x="8"/><rect class="D" x="9"/><rect class="J" x="10"/><rect class="o" x="11"/><rect class="r" x="12"/><rect class="I" x="13"/><rect class="N" x="14"/><rect class="N" x="15"/><rect class="B" x="16"/></g>
<g transform="translate(0,19)"><rect class="C"/><rect class="k" x="1"/><rect class="O" x="2"/><rect class="l" x="3"/><rect class="O" x="4"/><rect class="A" x="5"/><rect class="M" x="6"/><rect class="L" x="7"/><rect class="J" x="8"/><rect class="e" x="9"/><rect class="e" x="10"/><rect class="g" x="11"/><rect class="i" x="12"/><rect class="J" x="13"/><rect class="q" x="14"/><rect class="M" x="15"/><rect class="A" x="16"/></g>
<g transform="translate(0,20)"><rect class="N"/><rect class="E" x="1"/><rect class="g" x="2"/><rect class="B" x="3"/><rect class="N" x="4"/><rect class="O" x="5"/><rect class="H" x="6"/><rect class="P" x="7"/><rect class="C" x="8"/><rect class="E" x="9"/><rect class="l" x="10"/><rect class="J" x="11"/><rect class="i" x="12"/><rect class="t" x="13"/><rect class="A" x="14"/><rect class="A" x="15"/><rect class="L" x="16"/></g>
<g transform="translate(0,21)"><rect class="N"/><rect class="F" x="1"/><rect class="B" x="2"/><rect class="M" x="3"/><rect class="N" x="4"/><rect class="D" x="5"/><rect class="t" x="6"/><rect class="I" x="7"/><rect class="G" x="8"/><rect class="g" x="9"/><rect class="J" x="10"/><rect class="d" x="11"/><rect class="g" x="12"/><rect class="g" x="13"/><rect class="I" x="14"/><rect class="c" x="15"/><rect class="K" x="16"/></g>
<g transform="translate(0,22)"><rect class="a"/><rect class="k" x="1"/><rect class="J" x="2"/><rect class="e" x="3"/><rect class="L" x="4"/><rect class="F" x="5"/><rect class="h" x="6"/><rect class="B" x="7"/><rect class="t" x="8"/><rect class="l" x="9"/><rect class="c" x="10"/><rect class="e" x="11"/><rect class="o" x="12"/><rect class="i" x="13"/><rect class="t" x="14"/><rect class="l" x="15"/><rect class="P" x="16"/></g>
<g transform="translate(0,23)"><rect class="F"/><rect class="K" x="1"/><rect class="P" x="2"/><rect class="L" x="3"/><rect class="E" x="4"/><rect class="O" x="5"/><rect class="J" x="6"/><rect class="u" x="7"/><rect class="m" x="8"/><rect class="P" x="9"/><rect class="p" x="10"/><rect class="D" x="11"/><rect class="K" x="12"/><rect class="N" x="13"/><rect class="P" x="14"/><rect class="E" x="15"/><rect class="F" x="16"/></g>
<g transform="translate(0,24)"><rect class="u"/><rect class="K" x="1"/><rect class="l" x="2"/><rect class="g" x="3"/><rect class="A" x="4"/><rect class="f" x="5"/><rect class="e" x="6"/><rect class="P" x="7"/><rect class="f" x="8"/><rect class="c" x="9"/><rect class="i" x="10"/><rect class="L" x="11"/><rect class="D" x="12"/><rect class="g" x="13"/><rect class="u" x="14"/><rect class="D" x="15"/><rect class="R" x="16"/></g>
<g transform="translate(0,25)"><rect class="l"/><rect class="e" x="1"/><rect class="d" x="2"/><rect class="N" x="3"/><rect class="t" x="4"/><rect class="h" x="5"/><rect class="e" x="6"/><rect class="D" x="7"/><rect class="E" x="8"/><rect class="C" x="9"/><rect class="J" x="10"/><rect class="I" x="11"/><rect class="B" x="12"/><rect class="a" x="13"/><rect class="O" x="14"/><rect class="e" x="15"/><rect class="D" x="16"/></g>
<g transform="translate(0,26)"><rect class="t"/><rect class="g" x="1"/><rect class="E" x="2"/><rect class="g" x="3"/><rect class="J" x="4"/><rect class="t" x="5"/><rect class="F" x="6"/><rect class="b" x="7"/><rect class="L" x="8"/><rect class="E" x="9"/><rect class="t" x="10"/><rect class="P" x="11"/><rect class="B" x="12"/><rect class="u" x="13"/><rect class="A" x="14"/><rect class="L" x="15"/><rect class="A" x="16"/></g>
<use href="#lattice27"/>
<rect class="frame" width="17" height="27" style="fill:none"/>
</g>
</svg>
